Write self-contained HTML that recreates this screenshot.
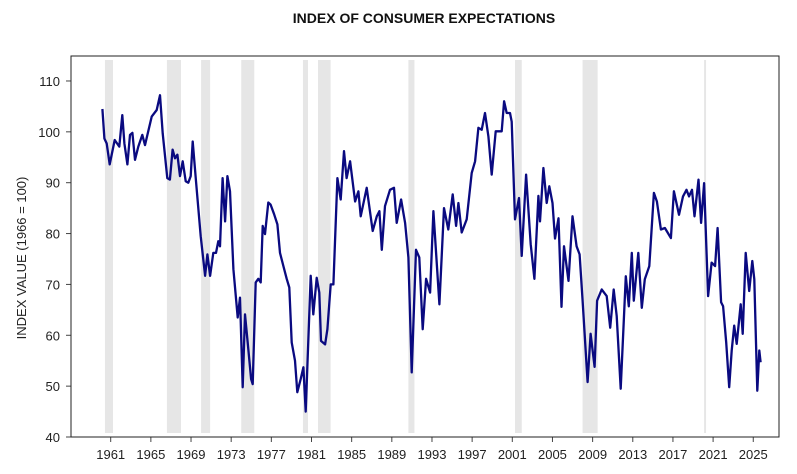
<!DOCTYPE html>
<html><head><meta charset="utf-8"><style>
body{margin:0;background:#fff;}
svg{display:block;font-family:"Liberation Sans",Arial,sans-serif;}
</style></head><body>
<svg id="chart" width="797" height="474" viewBox="0 0 797 474">
<text x="424" y="23" text-anchor="middle" font-size="14" font-weight="bold" fill="#111">INDEX OF CONSUMER EXPECTATIONS</text>
<text transform="translate(26,258) rotate(-90)" text-anchor="middle" font-size="13" fill="#222">INDEX VALUE (1966 = 100)</text>
<g id="rec"></g>
<g id="axes"></g>
<g id="series"></g>
<rect x="71" y="56" width="708" height="381" fill="none" stroke="#222" stroke-width="1"/>
</svg>
<script>
const years=[1960.17,1960.37,1960.6,1960.9,1961.4,1961.86,1962.16,1962.36,1962.66,1962.92,1963.16,1963.42,1963.75,1964.15,1964.42,1965.08,1965.58,1965.91,1966.18,1966.64,1966.9,1967.17,1967.4,1967.64,1967.9,1968.17,1968.47,1968.73,1968.97,1969.17,1969.5,1969.96,1970.4,1970.63,1970.9,1971.22,1971.49,1971.72,1971.89,1972.15,1972.39,1972.62,1972.88,1973.22,1973.65,1973.88,1974.15,1974.38,1974.71,1974.98,1975.14,1975.44,1975.7,1975.94,1976.14,1976.37,1976.7,1976.93,1977.27,1977.6,1977.86,1978.2,1978.53,1978.79,1979.03,1979.36,1979.59,1979.92,1980.19,1980.42,1980.92,1981.18,1981.52,1981.78,1981.95,1982.35,1982.58,1982.91,1983.18,1983.58,1983.91,1984.24,1984.5,1984.84,1985.34,1985.67,1985.9,1986.5,1987.1,1987.5,1987.76,1988.0,1988.32,1988.82,1989.22,1989.49,1989.92,1990.32,1990.65,1990.98,1991.41,1991.74,1992.08,1992.41,1992.81,1993.14,1993.74,1994.2,1994.63,1995.06,1995.4,1995.63,1995.96,1996.46,1996.96,1997.29,1997.62,1997.95,1998.28,1998.62,1998.95,1999.35,1999.94,2000.18,2000.44,2000.77,2000.94,2001.27,2001.67,2001.94,2002.37,2002.83,2003.2,2003.6,2003.76,2004.1,2004.43,2004.69,2005.0,2005.25,2005.6,2005.9,2006.15,2006.6,2007.0,2007.4,2007.7,2008.0,2008.5,2008.8,2009.2,2009.45,2009.9,2010.4,2010.75,2011.1,2011.4,2011.8,2012.3,2012.6,2012.9,2013.1,2013.55,2013.9,2014.2,2014.65,2015.1,2015.4,2015.8,2016.2,2016.8,2017.1,2017.6,2018.0,2018.35,2018.6,2018.9,2019.15,2019.55,2019.8,2020.1,2020.5,2020.85,2021.2,2021.45,2021.8,2022.0,2022.3,2022.6,2022.85,2023.1,2023.35,2023.75,2023.95,2024.25,2024.6,2024.9,2025.1,2025.4,2025.6,2025.73];
const values=[104.5,98.7,97.7,93.6,98.4,97.1,103.3,97.7,93.6,99.4,99.8,94.5,97.1,99.4,97.4,103,104.3,107.2,99.7,90.9,90.6,96.5,94.8,95.5,91.3,94.2,90.3,90,91.3,98.1,90.3,79.5,71.7,75.9,71.7,76.2,76.2,78.5,77.5,90.9,82.4,91.3,88.3,73,63.5,67.4,49.8,64.1,57.3,51.4,50.4,70.4,71.1,70.4,81.5,79.9,86.1,85.7,83.8,81.8,76.2,73.6,71.1,69.4,58.6,55,48.8,51.4,53.7,45,71.7,64.1,71.3,68.4,58.9,58.2,61.2,70,70,90.9,86.7,96.2,90.9,94.2,86.3,88.3,83.4,89,80.5,83.4,84.4,76.8,85.4,88.6,89,82.1,86.7,82.1,75.3,52.7,76.8,75.3,61.2,71.1,68.4,84.4,66.1,85,80.8,87.7,81.5,86,80.2,82.8,91.9,94.2,100.8,100.4,103.7,99.1,91.6,100.1,100.1,106,103.7,103.7,102,82.8,87,75.6,91.6,77.9,71.1,87.4,82.4,92.9,86,89.3,86,79,83,65.6,77.5,70.7,83.4,77.5,75.9,66.8,50.8,60.3,53.8,66.8,69,67.7,61.5,69,63.8,49.5,71.6,65.7,76.2,66.8,76.2,65.4,71,73.6,88,86.3,80.8,81.1,79.1,88.3,83.7,87.3,88.6,87.3,88.6,83.4,90.6,82.1,89.9,67.7,74.3,73.6,81.1,66.5,65.7,58.6,49.8,57,61.9,58.3,66.1,60.3,76.2,68.7,74.6,71,49.1,57,54.7];
const recStart=[1960.43,1966.6,1970.0,1974.0,1980.15,1981.65,1990.65,2001.27,2008.0,2020.1];
const recEnd=[1961.23,1968.0,1970.9,1975.3,1980.65,1982.9,1991.25,2001.94,2009.5,2020.3];
const yTicks=[40,50,60,70,80,90,100,110];
const xTicks=[1961,1965,1969,1973,1977,1981,1985,1989,1993,1997,2001,2005,2009,2013,2017,2021,2025];
const NS='http://www.w3.org/2000/svg';
const xs=t=>110.7+(t-1961)*10.04;
const ys=v=>437-(v-40)*5.086;
function mk(tag,attrs,parent){const e=document.createElementNS(NS,tag);for(const k in attrs)e.setAttribute(k,attrs[k]);parent.appendChild(e);return e;}
const rec=document.getElementById('rec'),axes=document.getElementById('axes'),ser=document.getElementById('series');
recStart.forEach((s,i)=>{const r=mk('rect',{x:xs(s),y:60,width:Math.max(2,xs(recEnd[i])-xs(s)),height:373,fill:'#e6e6e6'},rec);

});
yTicks.forEach(v=>{const l=mk('line',{x1:66,x2:71,y1:ys(v),y2:ys(v),stroke:'#444'},axes);


const t=mk('text',{x:60,y:ys(v)+5,'text-anchor':'end','font-size':13,fill:'#222'},axes);t.textContent=v;

});
xTicks.forEach(y=>{const l=mk('line',{x1:xs(y),x2:xs(y),y1:437,y2:442,stroke:'#444'},axes);


const t=mk('text',{x:xs(y),y:459,'text-anchor':'middle','font-size':13,fill:'#222'},axes);t.textContent=y;

});
const p=mk('polyline',{points:years.map((t,i)=>xs(t).toFixed(1)+','+ys(values[i]).toFixed(1)).join(' '),fill:'none',stroke:'#0a0a80','stroke-width':2.3,'stroke-linejoin':'round'},ser);


</script>
</body></html>
